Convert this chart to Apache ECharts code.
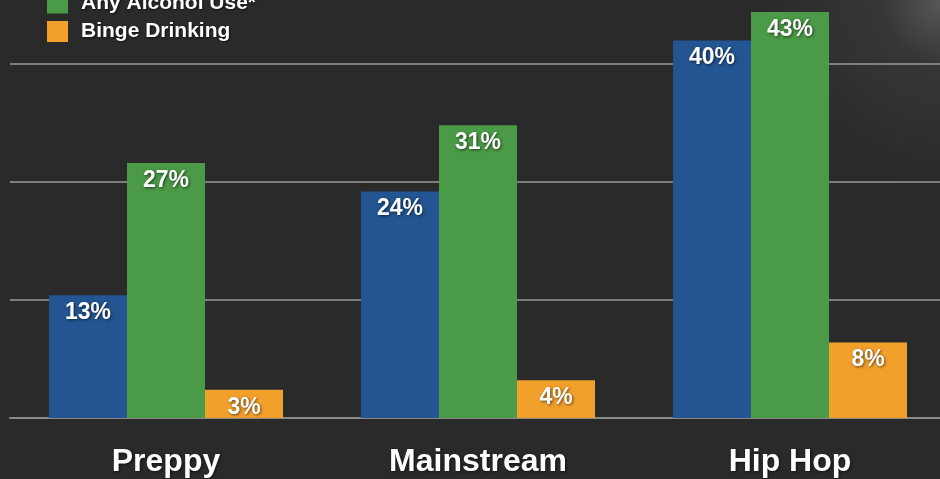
<!DOCTYPE html>
<html>
<head>
<meta charset="utf-8">
<script src="https://cdn.jsdelivr.net/npm/echarts@6/dist/echarts.min.js"></script>
<style>
  html, body { margin: 0; padding: 0; background: #2a2a2a; overflow: hidden; width: 940px; height: 479px; }
  /* the plot runs past the page edges: the 50% line and the first legend row sit above the top */
  #chart { position: absolute; left: 0; top: -54px; width: 946px; height: 533px; }
</style>
</head>
<body>
<div id="chart"></div>
<script>
// Peer crowds and substance use (percent)
const categories = ['Preppy', 'Mainstream', 'Hip Hop'];
const seriesNames = ['Current Smoking', 'Any Alcohol Use*', 'Binge Drinking'];
const smoking = [13, 24, 40];
const anyAlcohol = [27, 31, 43];
const bingeDrinking = [3, 4, 8];
const seriesColors = ['#235592', '#4a9a47', '#f2a02c'];

const chart = echarts.init(document.getElementById('chart'), null, { renderer: 'canvas' });

const labelStyle = {
  show: true,
  position: 'insideTop',
  distance: 6,
  color: '#ffffff',
  fontFamily: 'Liberation Sans, Arial, sans-serif',
  fontWeight: 'bold',
  fontSize: 23,
  textShadowColor: 'rgba(0,0,0,0.6)',
  textShadowBlur: 3,
  textShadowOffsetX: 1,
  textShadowOffsetY: 1,
  formatter: p => p.value + '%'
};

function makeSeries(name, data, color) {
  return {
    name: name,
    type: 'bar',
    data: data,
    barGap: '0%',
    barCategoryGap: '25%',
    itemStyle: { color: color },
    label: labelStyle,
    z: 3
  };
}

chart.setOption({
  backgroundColor: {
    type: 'radial',
    x: 1.0, y: 0.1, r: 0.35,
    colorStops: [
      { offset: 0, color: '#5a5a5a' },
      { offset: 0.35, color: '#363636' },
      { offset: 1, color: '#2a2a2a' }
    ]
  },
  animation: false,
  legend: {
    orient: 'vertical',
    left: 42,
    top: 13,
    itemWidth: 21,
    itemHeight: 21,
    itemGap: 7.5,
    icon: 'rect',
    data: seriesNames,
    textStyle: {
      color: '#ffffff',
      fontFamily: 'Liberation Sans, Arial, sans-serif',
      fontWeight: 'bold',
      fontSize: 21,
      padding: [0, 0, 0, 8],
      textShadowColor: 'rgba(0,0,0,0.6)',
      textShadowBlur: 2,
      textShadowOffsetX: 1,
      textShadowOffsetY: 1
    }
  },
  grid: { left: 10, right: 0, top: 0, bottom: 61, containLabel: false },
  xAxis: {
    type: 'category',
    data: categories,
    axisLine: { show: true, lineStyle: { color: '#8a8a8a', width: 2 } },
    axisTick: { show: false },
    axisLabel: {
      color: '#ffffff',
      fontFamily: 'Liberation Sans, Arial, sans-serif',
      fontWeight: 'bold',
      fontSize: 32,
      margin: 28,
      textShadowColor: 'rgba(0,0,0,0.6)',
      textShadowBlur: 3,
      textShadowOffsetX: 1,
      textShadowOffsetY: 1
    }
  },
  yAxis: {
    type: 'value',
    min: 0,
    max: 50,
    interval: 12.5,
    axisLine: { show: false },
    axisTick: { show: false },
    axisLabel: { show: false },
    splitLine: { show: true, lineStyle: { color: '#9a9a9a', width: 1.5 } }
  },
  series: [
    makeSeries(seriesNames[0], smoking, seriesColors[0]),
    makeSeries(seriesNames[1], anyAlcohol, seriesColors[1]),
    makeSeries(seriesNames[2], bingeDrinking, seriesColors[2])
  ]
});
</script>
</body>
</html>
